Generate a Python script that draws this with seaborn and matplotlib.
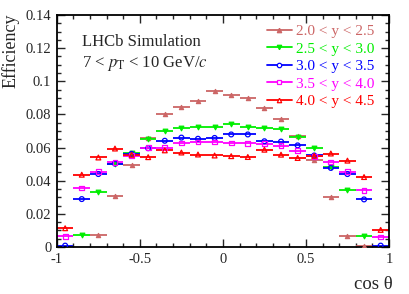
import numpy as np
import pandas as pd
import seaborn as sns
import matplotlib
matplotlib.use("Agg")
import matplotlib.pyplot as plt
from matplotlib.lines import Line2D
from matplotlib.ticker import MultipleLocator

# cos(theta) bin centres, width 0.1
cos_theta = [-0.95, -0.85, -0.75, -0.65, -0.55, -0.45, -0.35, -0.25, -0.15, -0.05,
             0.05, 0.15, 0.25, 0.35, 0.45, 0.55, 0.65, 0.75, 0.85, 0.95]

eff_y20_25 = [np.nan, np.nan, 0.0072, 0.0309, 0.0497, 0.0660, 0.0800, 0.0844, 0.0878, 0.0940,
              0.0915, 0.0899, 0.0840, 0.0772, 0.0668, 0.0527, 0.0303, 0.0065, 0.0003, np.nan]
eff_y25_30 = [np.nan, 0.0073, 0.0333, 0.0503, 0.0568, 0.0650, 0.0702, 0.0718, 0.0722, 0.0723,
              0.0741, 0.0723, 0.0716, 0.0709, 0.0665, 0.0600, 0.0482, 0.0343, 0.0065, np.nan]
eff_y30_35 = [0.0008, 0.0289, 0.0440, 0.0503, 0.0562, 0.0596, 0.0641, 0.0660, 0.0653, 0.0658,
              0.0679, 0.0679, 0.0638, 0.0636, 0.0613, 0.0552, 0.0477, 0.0440, 0.0287, 0.0008]
eff_y35_40 = [0.0064, 0.0356, 0.0455, 0.0511, 0.0550, 0.0598, 0.0600, 0.0628, 0.0633, 0.0633,
              0.0628, 0.0625, 0.0622, 0.0612, 0.0580, 0.0547, 0.0513, 0.0453, 0.0342, 0.0060]
eff_y40_45 = [0.0113, 0.0436, 0.0540, 0.0594, 0.0556, 0.0542, 0.0583, 0.0570, 0.0558, 0.0552,
              0.0548, 0.0543, 0.0587, 0.0557, 0.0537, 0.0550, 0.0564, 0.0521, 0.0422, 0.0103]

labels = ["2.0 < y < 2.5", "2.5 < y < 3.0", "3.0 < y < 3.5", "3.5 < y < 4.0", "4.0 < y < 4.5"]
colors = ["#cc6666", "#00ee00", "#0000ff", "#ff00ff", "#ff0000"]
markers = ["^", "v", "o", "s", "^"]
filled = [True, True, False, False, False]
msizes = [9, 11, 12, 12, 12]

rows = []
for lab, vals in zip(labels, [eff_y20_25, eff_y25_30, eff_y30_35, eff_y35_40, eff_y40_45]):
    for c, v in zip(cos_theta, vals):
        rows.append({"cos": c, "eff": v, "bin": lab})
df = pd.DataFrame(rows).dropna()

sns.set_style("ticks")
plt.rcParams["font.family"] = ["Liberation Serif", "DejaVu Serif"]
plt.rcParams["mathtext.fontset"] = "stix"

fig = plt.figure(figsize=(4.09, 2.94), dpi=100)
ax = fig.add_axes([0.139, 0.160, 0.812, 0.789])

for lab, col, mk, fl, ms in zip(labels, colors, markers, filled, msizes):
    d = df[df["bin"] == lab]
    ax.errorbar(d["cos"], d["eff"], xerr=0.05, fmt="none", ecolor=col, elinewidth=1.3,
                capsize=0, zorder=2)
    sns.scatterplot(data=d, x="cos", y="eff", ax=ax, marker=mk, s=ms,
                    color=col if fl else "none", edgecolor=col, linewidth=0.9,
                    zorder=3, legend=False)

ax.set_xlim(-1, 1)
ax.set_ylim(0, 0.14)
ax.xaxis.set_minor_locator(MultipleLocator(0.1))
ax.yaxis.set_minor_locator(MultipleLocator(0.005))
ax.set_xticks([-1, -0.5, 0, 0.5, 1])
ax.set_xticklabels(["-1", "-0.5", "0", "0.5", "1"])
ax.set_yticks([0, 0.02, 0.04, 0.06, 0.08, 0.1, 0.12, 0.14])
ax.set_yticklabels(["0", "0.02", "0.04", "0.06", "0.08", "0.1", "0.12", "0.14"])
ax.tick_params(which="both", direction="in", top=True, right=True, labelsize=10.5,
               width=1.0, pad=4)
ax.tick_params(which="major", length=6)
ax.tick_params(which="minor", length=3)
for sp in ax.spines.values():
    sp.set_linewidth(1.3)
    sp.set_color("black")

ax.set_xlabel("")
ax.set_ylabel("")
fig.text(0.960, 0.005, "cos θ", ha="right", va="bottom", fontsize=13.5)
fig.text(0.005, 0.955, "Efficiency", ha="left", va="top", rotation=90, fontsize=13)

ax.text(0.075, 0.866, "LHCb Simulation", transform=ax.transAxes, fontsize=12,
        ha="left", va="baseline")
ax.text(0.075, 0.776, r"7 < $p_{\mathrm{T}}$ < 10 GeV/$c$", transform=ax.transAxes,
        fontsize=12, ha="left", va="baseline")

handles = [Line2D([], [], color=col, marker=mk, markersize=3.2,
                  markerfacecolor=col if fl else "white", markeredgecolor=col,
                  markeredgewidth=0.9, lw=1.3)
           for col, mk, fl in zip(colors, markers, filled)]
leg = ax.legend(handles, labels, loc="upper right", bbox_to_anchor=(0.975, 0.985),
                frameon=False, fontsize=11, handlelength=1.6, handletextpad=0.3,
                labelspacing=0.25, borderaxespad=0, labelcolor="linecolor")

fig.savefig("out.png", dpi=100)
